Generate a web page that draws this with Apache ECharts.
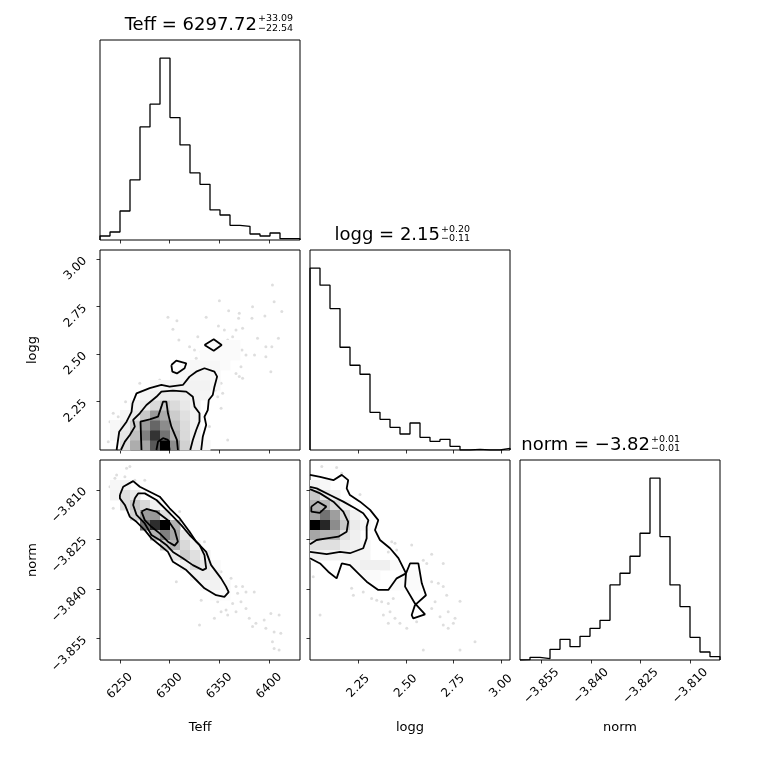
<!DOCTYPE html>
<html>
<head>
<meta charset="utf-8">
<script src="https://cdn.jsdelivr.net/npm/echarts@6/dist/echarts.min.js"></script>
<style>
html, body { margin: 0; padding: 0; background: #fff; }
#main { width: 760px; height: 760px; }
</style>
</head>
<body>
<div id="main"></div>
<script>
// axis ranges (20 bins over each range) and ticks
var teffRange = [6230, 6431];
var loggRange = [1.996, 3.048];
var normRange = [-3.8615, -3.8010];
var teffTicks = [6250, 6300, 6350, 6400];
var loggTicks = [2.25, 2.50, 2.75, 3.00];
var normTicks = [-3.855, -3.840, -3.825, -3.810];

// 1d histograms (counts per bin)
var teffHist = [12, 24, 87, 180, 339, 407, 545, 367, 285, 201, 167, 90, 75, 44, 41, 18, 12, 21, 4, 4];
var loggHist = [545, 494, 424, 308, 254, 227, 113, 92, 68, 48, 81, 38, 26, 32, 11, 0, 2, 0, 0, 5];
var normHist = [1, 8, 4, 32, 62, 40, 71, 95, 119, 225, 260, 311, 380, 545, 370, 225, 160, 68, 24, 10];

// titles
var titleNames = ['Teff', 'logg', 'norm'];
var titleVals = ['6297.72', '2.15', '\u22123.82'];
var titleUp = ['+33.09', '+0.20', '+0.01'];
var titleLo = ['\u221222.54', '\u22120.11', '\u22120.01'];

// 2d density cells: [col, row from bottom, density 0..1]
var cellsTL = [
  [2,0,.12],[3,0,.32],[4,0,.35],[5,0,.65],[6,0,1],[7,0,.45],[8,0,.18],[9,0,.08],[10,0,.04],
  [1,1,.04],[2,1,.1],[3,1,.25],[4,1,.5],[5,1,.8],[6,1,.55],[7,1,.3],[8,1,.15],[9,1,.06],
  [1,2,.03],[2,2,.07],[3,2,.18],[4,2,.4],[5,2,.6],[6,2,.45],[7,2,.25],[8,2,.14],[9,2,.05],
  [2,3,.04],[3,3,.08],[4,3,.22],[5,3,.4],[6,3,.33],[7,3,.2],[8,3,.12],[9,3,.05],
  [3,4,.05],[4,4,.08],[5,4,.15],[6,4,.2],[7,4,.14],[8,4,.09],[9,4,.05],
  [4,5,.04],[5,5,.06],[6,5,.08],[7,5,.09],[8,5,.07],[9,5,.05],[10,5,.04],
  [5,6,.03],[6,6,.04],[7,6,.05],[8,6,.05],[9,6,.05],[10,6,.05],[11,6,.03],
  [7,7,.03],[8,7,.03],[9,7,.04],[10,7,.04],[11,7,.03],
  [8,8,.02],[9,8,.03],[10,8,.03],[11,8,.03],[12,8,.02],
  [10,9,.02],[11,9,.02],[12,9,.02],[13,9,.02],
  [11,10,.02],[12,10,.02],[13,10,.02]
];
var cellsTN = [
  [1,17,.03],[2,17,.05],
  [1,16,.05],[2,16,.12],[3,16,.08],
  [2,15,.12],[3,15,.22],[4,15,.15],[5,15,.05],
  [3,14,.18],[4,14,.38],[5,14,.4],[6,14,.12],
  [4,13,.55],[5,13,.82],[6,13,1],[7,13,.3],
  [5,12,.3],[6,12,.5],[7,12,.35],[8,12,.1],
  [6,11,.2],[7,11,.3],[8,11,.15],[9,11,.05],
  [7,10,.1],[8,10,.2],[9,10,.12],[10,10,.05],
  [8,9,.06],[9,9,.15],[10,9,.1],[11,9,.03],
  [9,8,.05],[10,8,.08],[11,8,.06],
  [10,7,.03],[11,7,.05],[12,7,.03],
  [11,6,.02],[12,6,.02]
];
var cellsLN = [
  [0,17,.05],[1,17,.03],
  [0,16,.22],[1,16,.1],[2,16,.05],
  [0,15,.3],[1,15,.28],[2,15,.15],[3,15,.05],
  [0,14,.35],[1,14,.55],[2,14,.38],[3,14,.15],[4,14,.05],
  [0,13,1],[1,13,.85],[2,13,.45],[3,13,.22],[4,13,.08],[5,13,.04],
  [0,12,.35],[1,12,.3],[2,12,.3],[3,12,.12],[4,12,.06],
  [0,11,.12],[1,11,.12],[2,11,.12],[3,11,.07],[4,11,.06],[5,11,.04],
  [0,10,.05],[1,10,.05],[2,10,.05],[3,10,.05],[4,10,.06],[5,10,.04],
  [4,9,.03],[5,9,.06],[6,9,.06],[7,9,.06],[8,9,.02],
  [5,8,.02],[6,8,.02],[9,8,.02],[10,8,.02],
  [8,7,.02],[9,7,.02],[10,7,.02]
];

// contour lines (data units)
var contoursTL = [
  [[6246.7,1.996],[6249.3,2.092],[6256.7,2.145],[6261.7,2.197],[6262.7,2.242],[6266.7,2.294],[6280,2.321],[6291.7,2.338],[6300,2.329],[6313.3,2.338],[6320,2.382],[6326.7,2.408],[6335,2.426],[6345,2.408],[6347.7,2.382],[6345,2.329],[6343.3,2.285],[6339.3,2.259],[6338.3,2.206],[6335,2.171],[6336.7,2.128],[6333.3,2.066],[6331.7,1.996]],
  [[6251,1.996],[6255,2.040],[6260,2.075],[6265,2.119],[6263.3,2.154],[6270,2.189],[6276.7,2.233],[6286.7,2.276],[6291.7,2.303],[6303.3,2.308],[6316.7,2.303],[6323.3,2.276],[6325,2.224],[6330,2.189],[6330,2.145],[6326.7,2.101],[6323.3,2.049],[6320.7,1.996]],
  [[6271.7,1.996],[6270.7,2.145],[6280,2.157],[6288.3,2.171],[6291.7,2.224],[6293.3,2.250],[6296.7,2.250],[6298.3,2.189],[6301.7,2.119],[6307.3,2.049],[6308.3,1.996]],
  [[6286.7,1.996],[6288.3,2.040],[6293.3,2.058],[6298.3,2.049],[6300,1.996]],
  [[6301.7,2.443],[6306.7,2.466],[6316.7,2.452],[6315,2.426],[6307.3,2.399],[6302.7,2.408],[6301.7,2.443]],
  [[6335,2.548],[6344.3,2.578],[6352.3,2.548],[6344.3,2.518],[6335,2.548]]
];
var contoursTN = [
  [[6250,-3.8116],[6253.3,-3.8091],[6263.3,-3.8074],[6270,-3.8091],[6280,-3.8106],[6290,-3.8121],[6300,-3.8156],[6310,-3.8186],[6320,-3.8227],[6326.7,-3.8257],[6336.7,-3.8288],[6341.7,-3.8328],[6351.7,-3.8368],[6356.7,-3.8393],[6359.3,-3.8410],[6355,-3.8424],[6346.7,-3.8419],[6335,-3.8398],[6326.7,-3.8373],[6316.7,-3.8343],[6303.3,-3.8318],[6298.3,-3.8288],[6290,-3.8267],[6281.7,-3.8247],[6275,-3.8222],[6266.7,-3.8197],[6260,-3.8182],[6255,-3.8146],[6250,-3.8126],[6250,-3.8116]],
  [[6265,-3.8126],[6268.3,-3.8111],[6275,-3.8111],[6286.7,-3.8131],[6300,-3.8171],[6311.7,-3.8207],[6320,-3.8237],[6330,-3.8267],[6335,-3.8298],[6336.7,-3.8338],[6333.3,-3.8343],[6323.3,-3.8328],[6313.3,-3.8307],[6303.3,-3.8288],[6296.7,-3.8267],[6290,-3.8252],[6281.7,-3.8237],[6275,-3.8202],[6266.7,-3.8176],[6263.3,-3.8146],[6265,-3.8126]],
  [[6271.7,-3.8166],[6276.7,-3.8158],[6286.7,-3.8166],[6298.3,-3.8192],[6305,-3.8222],[6308.3,-3.8257],[6305,-3.8269],[6298.3,-3.8257],[6290,-3.8232],[6281.7,-3.8212],[6275,-3.8192],[6271.7,-3.8166]]
];
var contoursLN = [
  [[1.996,-3.8055],[2.049,-3.8061],[2.119,-3.8071],[2.163,-3.8055],[2.197,-3.8071],[2.189,-3.8096],[2.206,-3.8116],[2.259,-3.8136],[2.312,-3.8161],[2.355,-3.8192],[2.338,-3.8222],[2.364,-3.8252],[2.417,-3.8277],[2.461,-3.8307],[2.501,-3.8353],[2.496,-3.8393],[2.548,-3.8444],[2.601,-3.8477],[2.539,-3.8489],[2.531,-3.8479],[2.548,-3.8449],[2.606,-3.8419],[2.584,-3.8383],[2.566,-3.8323],[2.522,-3.8323],[2.501,-3.8353],[2.452,-3.8368],[2.408,-3.8403],[2.355,-3.8403],[2.294,-3.8378],[2.259,-3.8358],[2.206,-3.8328],[2.163,-3.8323],[2.136,-3.8368],[2.092,-3.8348],[2.049,-3.8323],[1.996,-3.8307]],
  [[1.996,-3.8091],[2.031,-3.8096],[2.101,-3.8116],[2.171,-3.8136],[2.233,-3.8156],[2.276,-3.8171],[2.303,-3.8192],[2.294,-3.8212],[2.294,-3.8247],[2.276,-3.8277],[2.206,-3.8292],[2.154,-3.8288],[2.084,-3.8295],[1.996,-3.8288]],
  [[1.996,-3.8098],[2.049,-3.8111],[2.119,-3.8136],[2.171,-3.8166],[2.197,-3.8197],[2.189,-3.8227],[2.145,-3.8242],[2.084,-3.8247],[2.031,-3.8252],[1.996,-3.8265]],
  [[2.003,-3.8151],[2.038,-3.8136],[2.082,-3.8151],[2.047,-3.8170],[2.003,-3.8166],[2.003,-3.8151]]
];

// outlying samples
var pointsTL = [
  [6403.3,2.864],[6405,2.776],[6412.7,2.724],[6409.3,2.584],[6401.7,2.408],[6395.7,2.701],[6383.3,2.750],[6382.7,2.689],
  [6370,2.715],[6369.3,2.689],[6359.3,2.729],[6350,2.781],[6349,2.648],[6355,2.627],[6366.7,2.627],[6373.3,2.636],
  [6363.3,2.592],[6358.3,2.575],[6350,2.557],[6357.3,2.522],[6366.7,2.531],[6372.7,2.522],[6376.7,2.496],[6385.3,2.496],
  [6396.7,2.487],[6388.3,2.584],[6396.7,2.539],[6402.7,2.539],[6336.7,2.694],[6328.3,2.592],[6325,2.522],[6331.7,2.513],
  [6320,2.539],[6335,2.478],[6326.7,2.478],[6346.7,2.452],[6356.7,2.461],[6371.7,2.434],[6366.7,2.399],[6370,2.382],
  [6373.3,2.373],[6351.7,2.347],[6353.3,2.294],[6346,2.312],[6348.3,2.276],[6351.7,2.215],[6340,2.119],[6358.3,2.049],
  [6298.3,2.694],[6307.3,2.676],[6303.3,2.631],[6309.3,2.575],[6290,2.364],[6270,2.347],[6255.7,2.250],[6243.3,2.189],
  [6240,2.145],[6248.3,2.171],[6238.3,2.040]
];
var pointsTN = [
  [6240,-3.8091],[6243.3,-3.8096],[6246.7,-3.8055],[6251.7,-3.8076],[6245,-3.8065],[6260,-3.8030],[6256.7,-3.8035],
  [6265,-3.8071],[6255,-3.8061],[6275,-3.8071],[6243.3,-3.8156],[6245,-3.8116],[6310,-3.8166],[6306.7,-3.8378],
  [6335,-3.8257],[6346.7,-3.8343],[6351.7,-3.8348],[6361.7,-3.8368],[6366.7,-3.8393],[6373.3,-3.8393],[6376.7,-3.8409],
  [6368.3,-3.8413],[6371.7,-3.8439],[6363.3,-3.8444],[6356.7,-3.8464],[6351.7,-3.8469],[6345,-3.8489],[6358.3,-3.8479],
  [6366.7,-3.8469],[6376.7,-3.8459],[6380,-3.8489],[6385,-3.8409],[6386.7,-3.8504],[6383.3,-3.8514],[6395,-3.8494],
  [6396.7,-3.8519],[6401.7,-3.8474],[6405,-3.8530],[6410,-3.8479],[6411.7,-3.8534],[6403.3,-3.8560],[6405,-3.8580],
  [6410,-3.8585],[6330,-3.8509],[6348.3,-3.8439],[6331.7,-3.8434],[6348.3,-3.8429]
];
var pointsLN = [
  [2.058,-3.8030],[2.136,-3.8033],[2.163,-3.8050],[2.259,-3.8114],[2.013,-3.8363],[2.049,-3.8479],[2.215,-3.8398],
  [2.224,-3.8419],[2.276,-3.8409],[2.320,-3.8429],[2.373,-3.8439],[2.408,-3.8444],[2.426,-3.8257],[2.443,-3.8262],
  [2.452,-3.8282],[2.408,-3.8288],[2.531,-3.8267],[2.636,-3.8295],[2.697,-3.8323],[2.592,-3.8313],[2.610,-3.8323],
  [2.636,-3.8378],[2.671,-3.8383],[2.697,-3.8393],[2.715,-3.8419],[2.654,-3.8439],[2.636,-3.8459],[2.680,-3.8484],
  [2.697,-3.8509],[2.723,-3.8519],[2.750,-3.8504],[2.785,-3.8437],[2.759,-3.8489],[2.723,-3.8469],[2.785,-3.8585],
  [2.864,-3.8560],[2.592,-3.8585],[2.557,-3.8499],[2.505,-3.8519],[2.443,-3.8489],[2.417,-3.8469],[2.382,-3.8479],
  [2.408,-3.8504],[2.469,-3.8504],[2.347,-3.8434],[2.434,-3.8429]
];

var FONT = 'DejaVu Sans';

// bin edges from a range
function edges(range) {
  var e = [], w = (range[1] - range[0]) / 20;
  for (var i = 0; i <= 20; i++) e.push(range[0] + i * w);
  return e;
}
var teffEdges = edges(teffRange), loggEdges = edges(loggRange), normEdges = edges(normRange);

// step outline of a histogram
function stepData(ed, counts) {
  var d = [[ed[0], 0]];
  for (var i = 0; i < counts.length; i++) d.push([ed[i], counts[i]]);
  d.push([ed[counts.length], counts[counts.length - 1]]);
  d.push([ed[counts.length], 0]);
  return d;
}

function cellData(cells, xe, ye) {
  return cells.map(function (c) {
    return [xe[c[0]], xe[c[0] + 1], ye[c[1]], ye[c[1] + 1], c[2]];
  });
}

function fmt2(v) { return v.toFixed(2); }
function fmtNorm(v) { return v.toFixed(3).replace('-', '\u2212'); }

var grids = [[100, 40], [100, 250], [310, 250], [100, 460], [310, 460], [520, 460]].map(function (p) {
  return { left: p[0], top: p[1], width: 200, height: 200, show: true,
           borderColor: '#000', borderWidth: 1, backgroundColor: 'transparent' };
});

function xAxis(grid, range, ticks, formatter, name) {
  return {
    type: 'value', gridIndex: grid, min: range[0], max: range[1],
    name: name || '', nameLocation: 'middle', nameGap: 61,
    nameTextStyle: { color: '#000', fontSize: 13, fontFamily: FONT },
    axisLine: { show: false }, splitLine: { show: false },
    axisTick: { show: true, inside: false, length: 3.5, customValues: ticks,
                lineStyle: { color: '#000', width: 0.8 } },
    axisLabel: { show: !!formatter, customValues: ticks, formatter: formatter,
                 rotate: 45, align: 'center', verticalAlign: 'middle', margin: 26,
                 color: '#000', fontSize: 12, fontFamily: FONT }
  };
}
function yAxis(grid, range, ticks, formatter, name) {
  if (!ticks) {
    return { type: 'value', gridIndex: grid, min: range[0], max: range[1], show: false };
  }
  return {
    type: 'value', gridIndex: grid, min: range[0], max: range[1],
    name: name || '', nameLocation: 'middle', nameGap: 61,
    nameTextStyle: { color: '#000', fontSize: 13, fontFamily: FONT },
    axisLine: { show: false }, splitLine: { show: false },
    axisTick: { show: true, inside: false, length: 3.5, customValues: ticks,
                lineStyle: { color: '#000', width: 0.8 } },
    axisLabel: { show: !!formatter, customValues: ticks, formatter: formatter,
                 rotate: 45, margin: 15, color: '#000', fontSize: 12, fontFamily: FONT }
  };
}

var hmax = function (h) { return [0, Math.max.apply(null, h) * 1.1]; };

var xAxes = [
  xAxis(0, teffRange, teffTicks),
  xAxis(1, teffRange, teffTicks),
  xAxis(2, loggRange, loggTicks),
  xAxis(3, teffRange, teffTicks, function (v) { return String(v); }, 'Teff'),
  xAxis(4, loggRange, loggTicks, fmt2, 'logg'),
  xAxis(5, normRange, normTicks, fmtNorm, 'norm')
];
var yAxes = [
  yAxis(0, hmax(teffHist)),
  yAxis(1, loggRange, loggTicks, fmt2, 'logg'),
  yAxis(2, hmax(loggHist)),
  yAxis(3, normRange, normTicks, fmtNorm, 'norm'),
  yAxis(4, normRange, normTicks),
  yAxis(5, hmax(normHist))
];

var series = [];

function addHist(idx, ed, counts) {
  series.push({ type: 'line', xAxisIndex: idx, yAxisIndex: idx, data: stepData(ed, counts),
                step: 'end', symbol: 'none', lineStyle: { color: '#000', width: 1.3 }, z: 3 });
}
function renderCell(params, api) {
  var p0 = api.coord([api.value(0), api.value(2)]);
  var p1 = api.coord([api.value(1), api.value(3)]);
  var g = Math.round(255 * (1 - api.value(4)));
  return { type: 'rect',
           shape: { x: p0[0], y: p1[1], width: p1[0] - p0[0] + 0.5, height: p0[1] - p1[1] + 0.5 },
           style: { fill: 'rgb(' + g + ',' + g + ',' + g + ')' } };
}
function add2d(idx, points, cells, contours) {
  series.push({ type: 'scatter', xAxisIndex: idx, yAxisIndex: idx, data: points, symbolSize: 3,
                itemStyle: { color: 'rgba(0,0,0,0.16)' }, silent: true, z: 1 });
  series.push({ type: 'custom', xAxisIndex: idx, yAxisIndex: idx, data: cells,
                renderItem: renderCell, encode: { x: [0, 1], y: [2, 3] }, silent: true, z: 2 });
  contours.forEach(function (c) {
    series.push({ type: 'line', xAxisIndex: idx, yAxisIndex: idx, data: c, symbol: 'none',
                  lineStyle: { color: '#000', width: 1.8 }, z: 4 });
  });
}

addHist(0, teffEdges, teffHist);
addHist(2, loggEdges, loggHist);
addHist(5, normEdges, normHist);
add2d(1, pointsTL, cellData(cellsTL, teffEdges, loggEdges), contoursTL);
add2d(3, pointsTN, cellData(cellsTN, teffEdges, normEdges), contoursTN);
add2d(4, pointsLN, cellData(cellsLN, loggEdges, normEdges), contoursLN);

// titles: main text plus stacked super/subscripts
var titlePos = [[257, 25], [440, 235.5], [650, 445.5]];
var graphic = [];
for (var i = 0; i < 3; i++) {
  var x = titlePos[i][0], y = titlePos[i][1];
  graphic.push({ type: 'text', x: x, y: y, style: { text: titleNames[i] + ' = ' + titleVals[i],
    textAlign: 'right', textVerticalAlign: 'middle', font: '18px "' + FONT + '"', fill: '#000' } });
  graphic.push({ type: 'text', x: x + 1, y: y - 6, style: { text: titleUp[i],
    textAlign: 'left', textVerticalAlign: 'middle', font: '9.5px "' + FONT + '"', fill: '#000' } });
  graphic.push({ type: 'text', x: x + 1, y: y + 3.5, style: { text: titleLo[i],
    textAlign: 'left', textVerticalAlign: 'middle', font: '9.5px "' + FONT + '"', fill: '#000' } });
}

var myChart = echarts.init(document.getElementById('main'));
myChart.setOption({
  animation: false,
  backgroundColor: '#fff',
  grid: grids,
  xAxis: xAxes,
  yAxis: yAxes,
  series: series,
  graphic: graphic
});
</script>
</body>
</html>
